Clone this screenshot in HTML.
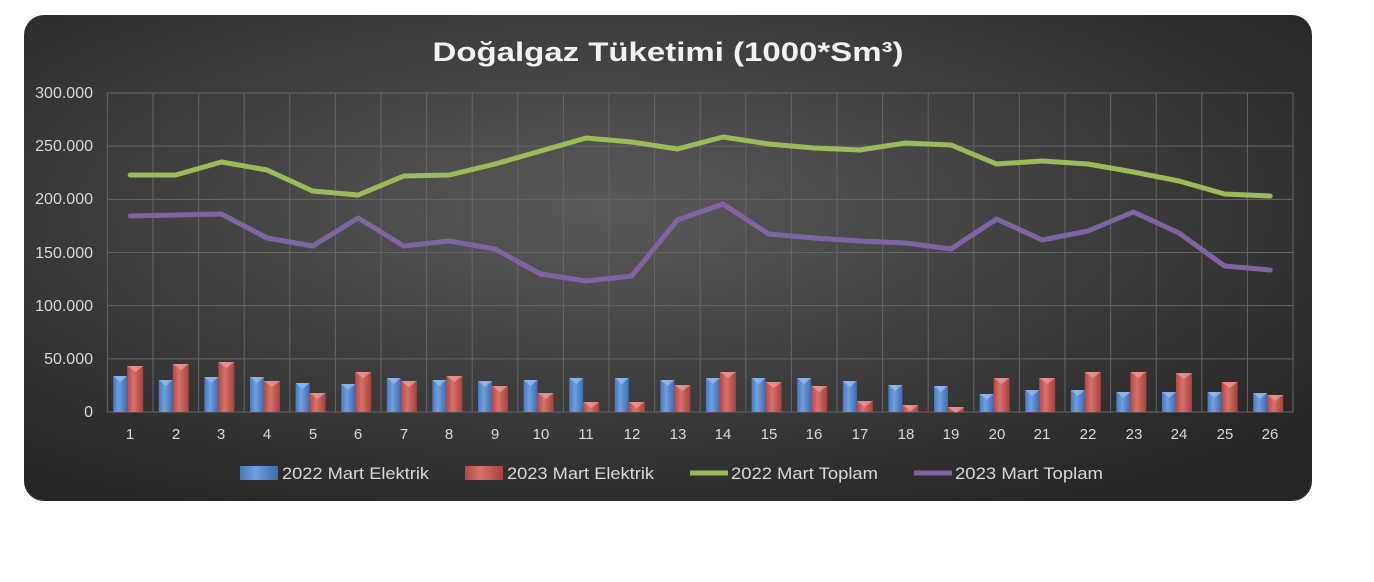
<!DOCTYPE html>
<html><head><meta charset="utf-8"><style>
body{margin:0;background:#fff;width:1374px;height:582px;overflow:hidden}
svg{display:block}
text{font-family:"Liberation Sans",sans-serif}
</style></head><body>
<svg id="s" width="1374" height="582" xmlns="http://www.w3.org/2000/svg">
<defs>
<radialGradient id="bg" cx="0.45" cy="0.4" r="0.7">
<stop offset="0" stop-color="#5a5a5a"/><stop offset="0.6" stop-color="#3a3a3a"/><stop offset="1" stop-color="#262626"/>
</radialGradient>
<linearGradient id="gb" x1="0" x2="1" y1="0" y2="0"><stop offset="0" stop-color="#4a78c0"/><stop offset="0.4" stop-color="#6f9fe0"/><stop offset="1" stop-color="#3f6aae"/></linearGradient>
<linearGradient id="gr" x1="0" x2="1" y1="0" y2="0"><stop offset="0" stop-color="#b04a46"/><stop offset="0.4" stop-color="#d9706a"/><stop offset="1" stop-color="#a5413d"/></linearGradient>
</defs>
<rect x="24" y="15" width="1288" height="486" rx="20" fill="url(#bg)"/>
<text x="668" y="61" text-anchor="middle" font-size="27" font-weight="bold" fill="#f2f2f2" textLength="471" lengthAdjust="spacingAndGlyphs">Doğalgaz Tüketimi (1000*Sm³)</text>
<g id="grid" stroke="#666" stroke-width="1"></g>
<g id="bars"></g>
<g id="lines" fill="none" stroke-width="5" stroke-linejoin="round" stroke-linecap="round"></g>
<g font-size="16" fill="#d9d9d9" text-anchor="end">
<text x="93" y="98">300.000</text><text x="93" y="151">250.000</text><text x="93" y="204">200.000</text><text x="93" y="258">150.000</text><text x="93" y="311">100.000</text><text x="93" y="364">50.000</text><text x="93" y="417">0</text>
</g>
<g font-size="15" fill="#d9d9d9" text-anchor="middle">
<text x="130" y="439">1</text><text x="176" y="439">2</text><text x="221" y="439">3</text><text x="267" y="439">4</text><text x="313" y="439">5</text><text x="358" y="439">6</text><text x="404" y="439">7</text><text x="449" y="439">8</text><text x="495" y="439">9</text><text x="541" y="439">10</text><text x="586" y="439">11</text><text x="632" y="439">12</text><text x="678" y="439">13</text><text x="723" y="439">14</text><text x="769" y="439">15</text><text x="814" y="439">16</text><text x="860" y="439">17</text><text x="906" y="439">18</text><text x="951" y="439">19</text><text x="997" y="439">20</text><text x="1042" y="439">21</text><text x="1088" y="439">22</text><text x="1134" y="439">23</text><text x="1179" y="439">24</text><text x="1225" y="439">25</text><text x="1270" y="439">26</text>
</g>
<rect x="240" y="466" width="38" height="14" fill="url(#gb)"/>
<text x="282" y="479" font-size="17" fill="#d9d9d9" textLength="147" lengthAdjust="spacingAndGlyphs">2022 Mart Elektrik</text>
<rect x="465" y="466" width="38" height="14" fill="url(#gr)"/>
<text x="507" y="479" font-size="17" fill="#d9d9d9" textLength="147" lengthAdjust="spacingAndGlyphs">2023 Mart Elektrik</text>
<line x1="690" y1="473" x2="728" y2="473" stroke="#9bbb59" stroke-width="5"/>
<text x="731" y="479" font-size="17" fill="#d9d9d9" textLength="147" lengthAdjust="spacingAndGlyphs">2022 Mart Toplam</text>
<line x1="914" y1="473" x2="952" y2="473" stroke="#8064a2" stroke-width="5"/>
<text x="955" y="479" font-size="17" fill="#d9d9d9" textLength="148" lengthAdjust="spacingAndGlyphs">2023 Mart Toplam</text>
</svg>
<script>
var NS="http://www.w3.org/2000/svg";
function el(t,a,p){var e=document.createElementNS(NS,t);for(var k in a)e.setAttribute(k,a[k]);document.getElementById(p).appendChild(e);return e;}
for(var k=0;k<=6;k++){var y=93+k*53.17;el("line",{x1:107.4,x2:1293,y1:y,y2:y},"grid");}
for(var i=0;i<=26;i++){var x=107.4+45.6*i;el("line",{x1:x,x2:x,y1:93,y2:412},"grid");}
var blue=[376,380,377,377,383,384,378,380,381,380,378,378,380,378,378,378,381,385,386,394,390,390,392,392,392,393];
var red=[366,364,362,381,393,372,381,376,386,393,402,402,385,372,382,386,401,405,407,378,378,372,372,373,382,395];
var g=[175,175,162,170,191,195,176,175,164,151,138,142,149,137,144,148,150,143,145,164,161,164,172,181,194,196];
var p=[216,215,214,238,246,218,246,241,249,274,281,276,220,204,234,238,241,243,249,219,240,231,212,233,266,270];
for(var i=0;i<26;i++){var c=84.6+45.6*(i+1);
el("rect",{x:c-17,y:blue[i],width:14,height:412-blue[i],fill:"url(#gb)"},"bars");
el("path",{d:"M"+(c-17)+" "+blue[i]+"h14l-7 6z",fill:"#9cc0f0",opacity:0.7},"bars");
el("rect",{x:c-3,y:red[i],width:16,height:412-red[i],fill:"url(#gr)"},"bars");
el("path",{d:"M"+(c-3)+" "+red[i]+"h16l-8 6z",fill:"#f0a09a",opacity:0.7},"bars");}
function pl(a,col){var pts=a.map(function(y,i){return (84.6+45.6*(i+1))+","+y}).join(" ");el("polyline",{points:pts,stroke:col},"lines");}
pl(g,"#9bbb59");pl(p,"#8064a2");
</script>
</body></html>
